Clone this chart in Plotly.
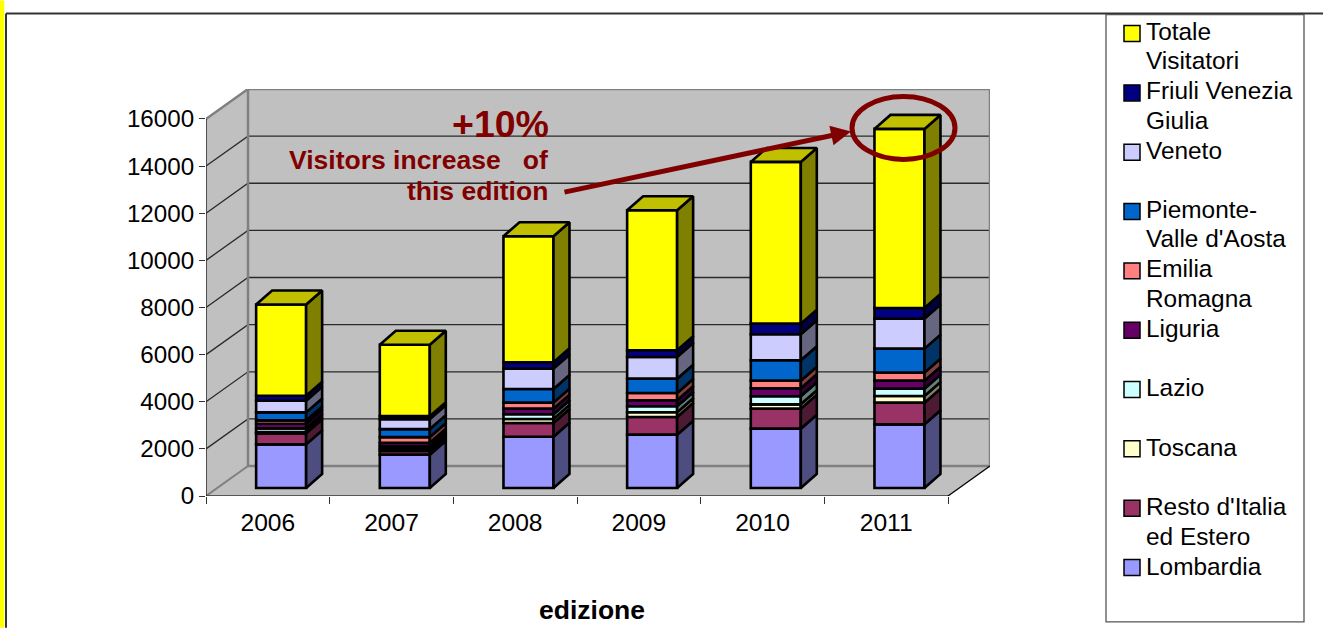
import plotly.graph_objects as go
import numpy as np

years = ["2006", "2007", "2008", "2009", "2010", "2011"]
names = ["Lombardia", "Resto d'Italia<br>ed Estero", "Toscana", "Lazio", "Liguria",
         "Emilia<br>Romagna", "Piemonte-<br>Valle d'Aosta", "Veneto",
         "Friuli Venezia<br>Giulia", "Totale<br>Visitatori"]
lombardia = [1853, 1415, 2178, 2264, 2518, 2702]
resto = [466, 155, 580, 750, 849, 920]
toscana = [60, 100, 170, 198, 184, 283]
lazio = [150, 110, 200, 255, 340, 311]
liguria = [200, 140, 240, 255, 340, 340]
emilia = [140, 240, 255, 311, 325, 340]
piemonte = [340, 340, 580, 608, 863, 1019]
veneto = [495, 424, 863, 920, 1104, 1273]
friuli = [210, 127, 270, 283, 453, 453]
totale = [3875, 3027, 5348, 5942, 6862, 7598]
series = [lombardia, resto, toscana, lazio, liguria, emilia, piemonte, veneto, friuli, totale]

front = ["#9999FF", "#993366", "#FFFFCC", "#CCFFFF", "#660066",
         "#FF8080", "#0066CC", "#CCCCFF", "#000080", "#FFFF00"]
side = ["#4D4D80", "#4D1A33", "#808066", "#668080", "#330033",
        "#804040", "#003366", "#666680", "#000040", "#808000"]
top_face = "#C0C000"
y_ticks = [0, 2000, 4000, 6000, 8000, 10000, 12000, 14000, 16000]

W, H = 1323, 628
L, R, T, B = 206, 990, 88.5, 496
CAT_PX = 742 / 6
VAL_PX = 377.5 / 16000
sx = lambda px: px / CAT_PX
sy = lambda px: px / VAL_PX
DX, DY = sx(42), sy(30)            # depth of the chart box
xmin, xmax = -0.5, 5.5
BAR_W = sx(50)
BX, BY = sx(13.3), sy(8)           # bar offset from the front plane
DBX, DBY = sx(16), sy(14)          # bar depth
FONT = "Liberation Sans"
DARK = "#800000"
EDGE = 2.6


def px(x):
    return (x - L) / (R - L)


def py(y):
    return (B - y) / (B - T)


fig = go.Figure()
xs = np.arange(len(years)) + BX
cum = np.zeros(len(years))
for vals, name, fc, sc in zip(series, names, front, side):
    vals = np.array(vals, float)
    fig.add_trace(go.Bar(x=xs, y=vals, base=cum + BY, width=BAR_W, name=name.replace("<br>", " "),
                         marker=dict(color=fc, line=dict(color="black", width=EDGE)),
                         showlegend=False, hoverinfo="skip"))
    poly_x, poly_y = [], []
    for xc, b, v in zip(xs, cum + BY, vals):
        r = xc + BAR_W / 2
        poly_x += [r, r + DBX, r + DBX, r, r, None]
        poly_y += [b, b + DBY, b + v + DBY, b + v, b, None]
    fig.add_trace(go.Scatter(x=poly_x, y=poly_y, mode="lines", fill="toself", fillcolor=sc,
                             line=dict(color="black", width=EDGE), showlegend=False, hoverinfo="skip"))
    cum = cum + vals

tx, ty = [], []
for xc, t in zip(xs, cum + BY):
    l, r = xc - BAR_W / 2, xc + BAR_W / 2
    tx += [l, l + DBX, r + DBX, r, l, None]
    ty += [t, t + DBY, t + DBY, t, t, None]
fig.add_trace(go.Scatter(x=tx, y=ty, mode="lines", fill="toself", fillcolor=top_face,
                         line=dict(color="black", width=EDGE), showlegend=False, hoverinfo="skip"))

ymax = y_ticks[-1]
shapes = []


def poly(points, fill=None, color="#808080", width=2, layer="below"):
    d = "M " + " L ".join(f"{x} {y}" for x, y in points) + (" Z" if fill else "")
    shapes.append(dict(type="path", path=d, xref="x", yref="y", layer=layer,
                       fillcolor=fill or "rgba(0,0,0,0)", line=dict(color=color, width=width)))


# walls and floor of the box
WALL = "#C0C0C0"
poly([(xmin + DX, DY), (xmax + DX, DY), (xmax + DX, ymax + DY), (xmin + DX, ymax + DY)], WALL, width=0)
poly([(xmin, 0), (xmin + DX, DY), (xmin + DX, ymax + DY), (xmin, ymax)], WALL, width=0)
poly([(xmin, 0), (xmax, 0), (xmax + DX, DY), (xmin + DX, DY)], WALL, width=0)
for v in y_ticks[1:-1]:
    poly([(xmin, v), (xmin + DX, v + DY), (xmax + DX, v + DY)], color="#2a2a2a", width=1.3)
poly([(xmin, ymax), (xmin + DX, ymax + DY), (xmax + DX, ymax + DY), (xmax + DX, DY)], width=2.5)
poly([(xmin + DX, ymax + DY), (xmin + DX, DY), (xmax + DX, DY)], width=2.5)
poly([(xmin, 0), (xmin + DX, DY)], width=2)
poly([(xmax, 0), (xmax + DX, DY)], color="#000000", width=1.3)
poly([(xmin, ymax), (xmin, 0), (xmax, 0)], color="#333333", width=1.6)


def pshape(kind, x0, y0, x1, y1, **kw):
    shapes.append(dict(type=kind, xref="paper", yref="paper",
                       x0=px(x0), x1=px(x1), y0=py(y0), y1=py(y1), **kw))


# page frame
pshape("rect", 0, 0, 4.3, H, fillcolor="#FFFF00", line=dict(width=0))
pshape("line", 6, 13, 6, H, line=dict(color="#333333", width=2))
pshape("line", 6, 13, W, 13, line=dict(color="#333333", width=2))
# legend frame
pshape("rect", 1106, 14, 1304, 622, fillcolor="white", line=dict(color="#555555", width=1.3))
# highlight ring
pshape("circle", 852, 96, 955, 159, line=dict(color=DARK, width=5))

annotations = []


def text(x, y, s, size, xanchor="left", yanchor="middle", color="black", bold=False):
    annotations.append(dict(x=px(x), y=py(y), xref="paper", yref="paper", text=f"<b>{s}</b>" if bold else s,
                            showarrow=False, xanchor=xanchor, yanchor=yanchor, align=xanchor,
                            borderpad=0, borderwidth=0,
                            font=dict(family=FONT, size=size, color=color)))


# legend rows, top to bottom
for i, idx in enumerate(range(len(names) - 1, -1, -1)):
    pshape("rect", 1124, 25 + 59.4 * i, 1140, 41 + 59.4 * i, fillcolor=front[idx],
           line=dict(color="black", width=1.5))
    for j, part in enumerate(names[idx].split("<br>")):
        text(1146, 30.5 + 59.55 * i + 29.5 * j, part, 24.4)

text(549, 124, "+10%", 37.5, xanchor="right", color=DARK, bold=True)
text(548, 160, "Visitors increase &nbsp; of", 26.5, xanchor="right", color=DARK, bold=True)
text(548, 191, "this edition", 26.5, xanchor="right", color=DARK, bold=True)
text(592, 610, "edizione", 26.5, xanchor="center", bold=True)

annotations.append(dict(x=px(851), y=py(131), xref="paper", yref="paper", text="", showarrow=True,
                        ax=-288, ay=61, arrowhead=2, arrowsize=0.8, arrowwidth=5, arrowcolor=DARK,
                        standoff=0))

fig.update_layout(
    width=W, height=H, margin=dict(l=L, r=W - R, t=T, b=H - B, pad=0),
    paper_bgcolor="white", plot_bgcolor="white", barmode="overlay", showlegend=False,
    font=dict(family=FONT, size=24, color="black"),
    shapes=shapes, annotations=annotations,
    xaxis=dict(range=[xmin, xmin + (R - L) / CAT_PX], tickmode="array", tickvals=list(range(len(years))),
               ticktext=years, ticks="", showgrid=False, zeroline=False, showline=False, ticklabelstandoff=9,
               minor=dict(tickmode="array", tickvals=[i - 0.5 for i in range(len(years) + 1)], ticks="outside",
                          ticklen=7, tickwidth=1.3, tickcolor="#333333", showgrid=False),
               tickfont=dict(family=FONT, size=24.6)),
    yaxis=dict(range=[0, (B - T) / VAL_PX], tickmode="array", tickvals=y_ticks, tickformat="d",
               ticks="outside", ticklen=6,
               tickwidth=1.3, tickcolor="#333333", showgrid=False, zeroline=False, showline=False,
               tickfont=dict(family=FONT, size=24.2)),
)

fig.write_html("out.html", post_script="document.body.style.margin='0';", config={"displayModeBar": False})
